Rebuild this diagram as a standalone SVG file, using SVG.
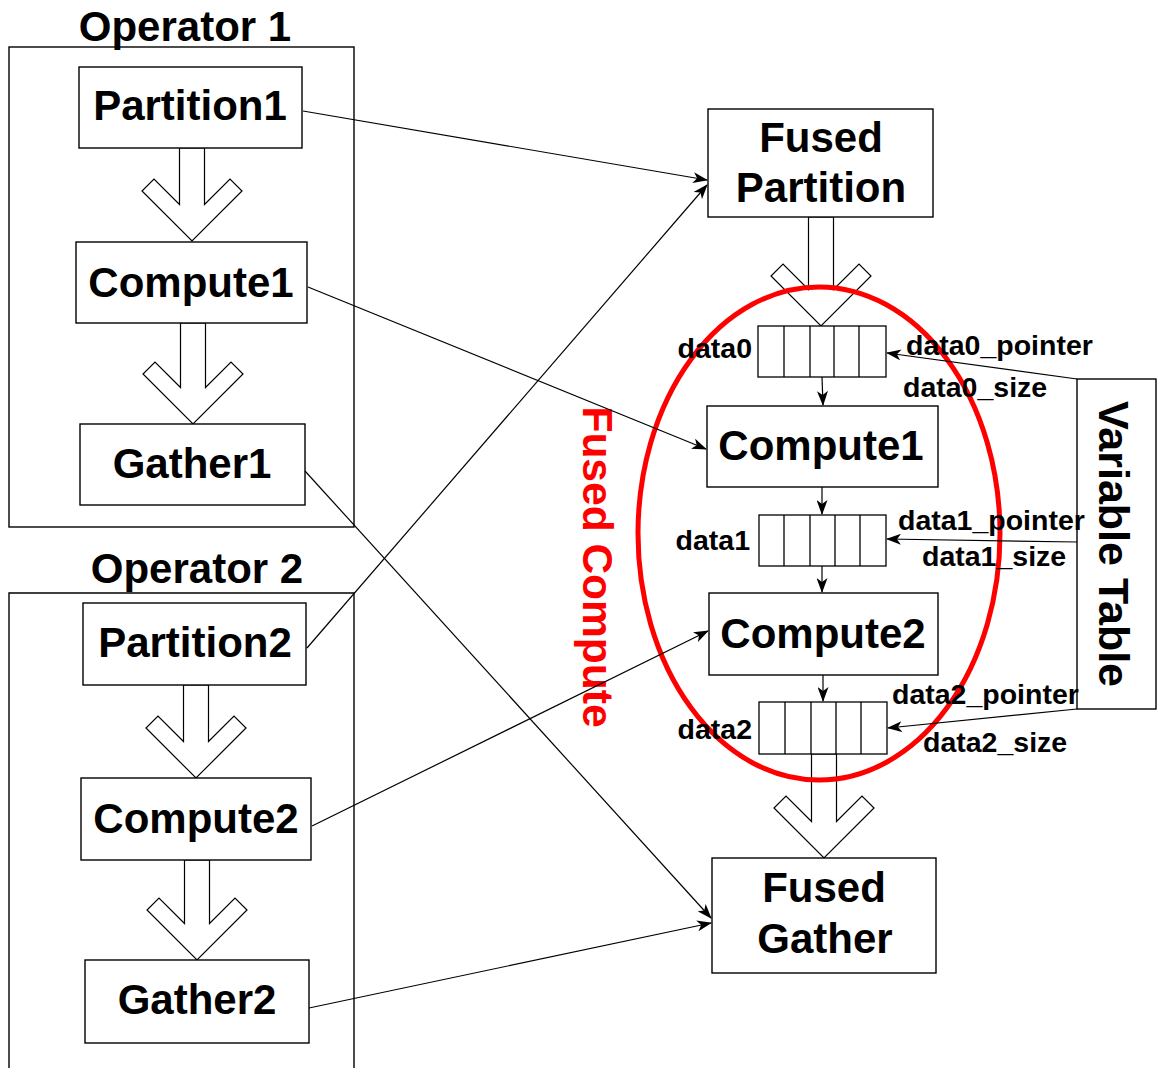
<svg xmlns="http://www.w3.org/2000/svg" width="1157" height="1068" viewBox="0 0 1157 1068">
<style>
  .box { fill: #fff; stroke: #000; stroke-width: 1.4; }
  .op { fill: none; stroke: #000; stroke-width: 1.4; }
  .chev { fill: #fff; stroke: #000; stroke-width: 1.2; stroke-linejoin: miter; }
  .cell { fill: #fff; stroke: #000; stroke-width: 1.3; }
  .lbl { font-family: "Liberation Sans", Arial, sans-serif; font-weight: bold; font-size: 42px; fill: #000; text-anchor: middle; }
  .small { font-family: "Liberation Sans", Arial, sans-serif; font-weight: bold; font-size: 28.5px; fill: #000; }
  .conn line { stroke: #000; stroke-width: 1.2; marker-end: url(#ah); }
</style>
<defs>
  <marker id="ah" markerUnits="userSpaceOnUse" markerWidth="15" markerHeight="11" refX="14" refY="5.5" orient="auto">
    <path d="M0,0 L15,5.5 L0,11 L4,5.5 z" fill="#000"/>
  </marker>
</defs>
<rect width="1157" height="1068" fill="#fff"/>

<!-- block (chevron) arrows -->
<g id="block-arrows">
  <polygon class="chev" points="179.5,148 179.5,204.5 154,179 142,191 192,241 242,191 230,179 204.5,204.5 204.5,148"/>
  <polygon class="chev" points="180.5,323 180.5,387.5 155,362 143,374 193,424 243,374 231,362 205.5,387.5 205.5,323"/>
  <polygon class="chev" points="183.5,685 183.5,741.5 158,716 146,728 196,778 246,728 234,716 208.5,741.5 208.5,685"/>
  <polygon class="chev" points="184.5,860 184.5,923.5 159,898 147,910 197,960 247,910 235,898 209.5,923.5 209.5,860"/>
  <polygon class="chev" points="808.5,217 808.5,289.5 783,264 771,276 821,326 871,276 859,264 833.5,289.5 833.5,217"/>
  <polygon class="chev" points="811.5,754 811.5,821.5 786,796 774,808 824,858 874,808 862,796 836.5,821.5 836.5,754"/>
</g>

<!-- Fused Compute ellipse -->
<g id="fused-compute">
  <ellipse cx="819" cy="533.5" rx="181" ry="246.5" fill="none" stroke="#ff0000" stroke-width="5"/>
  <text class="lbl" style="fill:#ff0000;font-size:42.5px" transform="translate(583,567) rotate(90)">Fused Compute</text>
</g>

<!-- Operator 1 -->
<g id="operator1">
  <rect class="op" x="9" y="47" width="345" height="480"/>
  <text class="lbl" x="185" y="41">Operator 1</text>
</g>
<g id="partition1"><rect class="box" x="79" y="67" width="223" height="81"/><text class="lbl" x="190" y="120">Partition1</text></g>
<g id="compute1"><rect class="box" x="76" y="242" width="231" height="81"/><text class="lbl" x="191" y="297">Compute1</text></g>
<g id="gather1"><rect class="box" x="80" y="424" width="225" height="81"/><text class="lbl" x="192" y="478">Gather1</text></g>

<!-- Operator 2 -->
<g id="operator2">
  <path class="op" d="M9,1070 L9,593 L354,593 L354,1070"/>
  <text class="lbl" x="197" y="583">Operator 2</text>
</g>
<g id="partition2"><rect class="box" x="83" y="603" width="223" height="82"/><text class="lbl" x="195" y="657">Partition2</text></g>
<g id="compute2"><rect class="box" x="81" y="778" width="230" height="82"/><text class="lbl" x="196" y="833">Compute2</text></g>
<g id="gather2"><rect class="box" x="85" y="960" width="224" height="83"/><text class="lbl" x="197" y="1014">Gather2</text></g>

<!-- Fused nodes -->
<g id="fused-partition"><rect class="box" x="708" y="109" width="225" height="108"/><text class="lbl" x="821" y="152">Fused</text><text class="lbl" x="821" y="202">Partition</text></g>
<g id="fused-compute1"><rect class="box" x="707" y="406" width="231" height="81"/><text class="lbl" x="821" y="460">Compute1</text></g>
<g id="fused-compute2"><rect class="box" x="709" y="593" width="229" height="82"/><text class="lbl" x="823" y="648">Compute2</text></g>
<g id="fused-gather"><rect class="box" x="712" y="858" width="224" height="115"/><text class="lbl" x="824" y="902">Fused</text><text class="lbl" x="825" y="953">Gather</text></g>

<!-- data buffers -->
<g id="data0">
  <rect class="cell" x="758" y="326" width="128" height="51"/>
  <path d="M784,326 V377 M810,326 V377 M834,326 V377 M859,326 V377" stroke="#000" stroke-width="1.3"/>
  <text class="small" x="752" y="358" text-anchor="end">data0</text>
</g>
<g id="data1">
  <rect class="cell" x="759" y="515" width="127" height="51"/>
  <path d="M784,515 V566 M810,515 V566 M835,515 V566 M860,515 V566" stroke="#000" stroke-width="1.3"/>
  <text class="small" x="750" y="550" text-anchor="end">data1</text>
</g>
<g id="data2">
  <rect class="cell" x="759" y="702" width="128" height="52"/>
  <path d="M785,702 V754 M811,702 V754 M836,702 V754 M861,702 V754" stroke="#000" stroke-width="1.3"/>
  <text class="small" x="752" y="739" text-anchor="end">data2</text>
</g>

<!-- Variable Table -->
<g id="variable-table">
  <rect class="box" x="1077" y="379" width="79" height="330"/>
  <text class="lbl" style="font-size:43px" transform="translate(1099,544) rotate(90)">Variable Table</text>
</g>

<!-- connectors -->
<g id="connectors" class="conn">
  <line x1="303" y1="111" x2="707" y2="180"/>
  <line x1="307" y1="648" x2="707" y2="185"/>
  <line x1="308" y1="287" x2="706" y2="449"/>
  <line x1="305" y1="471" x2="711" y2="918"/>
  <line x1="312" y1="826" x2="708" y2="631"/>
  <line x1="309" y1="1008" x2="711" y2="923"/>
  <line x1="1077" y1="379" x2="887" y2="353"/>
  <line x1="1077" y1="542" x2="887" y2="539"/>
  <line x1="1077" y1="709" x2="888" y2="728"/>
  <line x1="822" y1="377" x2="823" y2="405"/>
  <line x1="822" y1="487" x2="822" y2="514"/>
  <line x1="822" y1="566" x2="822" y2="592"/>
  <line x1="823" y1="675" x2="823" y2="701"/>
</g>

<!-- variable labels -->
<g id="var-labels">
  <text class="small" x="906" y="355">data0_pointer</text>
  <text class="small" x="903" y="397">data0_size</text>
  <text class="small" x="898" y="530">data1_pointer</text>
  <text class="small" x="922" y="566">data1_size</text>
  <text class="small" x="892" y="704">data2_pointer</text>
  <text class="small" x="923" y="752">data2_size</text>
</g>
</svg>
